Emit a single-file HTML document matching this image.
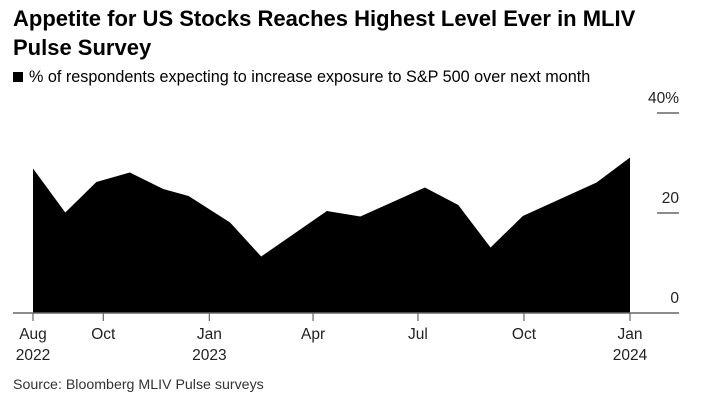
<!DOCTYPE html>
<html><head><meta charset="utf-8"><style>
body{margin:0;background:#fff;width:720px;height:410px;overflow:hidden;font-family:"Liberation Sans",Arial,sans-serif;color:#000}
.t{position:absolute;left:13px;top:4px;font-size:22px;font-weight:bold;line-height:29px;width:660px}
.lg{position:absolute;left:13px;top:68px;font-size:16.2px}
.lg i{display:inline-block;width:10px;height:10px;background:#000;margin-right:6px}
.src{position:absolute;left:13px;top:377px;font-size:14.2px;color:#333}
svg{position:absolute;left:0;top:0}
</style></head><body>
<div class="t">Appetite for US Stocks Reaches Highest Level Ever in MLIV Pulse Survey</div>
<div class="lg"><i></i>% of respondents expecting to increase exposure to S&amp;P 500 over next month</div>
<svg id="c" width="720" height="410"></svg>
<div class="src">Source: Bloomberg MLIV Pulse surveys</div>
<script>
const dates=["2022-08-01","2022-08-29","2022-09-25","2022-10-24","2022-11-22","2022-12-14","2023-01-19","2023-02-15","2023-04-13","2023-05-12","2023-07-07","2023-08-05","2023-09-02","2023-09-30","2023-12-03","2024-01-01"];
const values=[28.9,20.1,26.2,28.1,24.8,23.4,18.1,11.3,20.4,19.3,25.1,21.6,13.1,19.4,26.1,31.1];
const yTicks=[0,20,40];
const yTickLabels=["0","20","40%"];
const xTicks=["2022-08-01","2022-10-01","2023-01-01","2023-04-01","2023-07-01","2023-10-01","2024-01-01"];
const xTickLabels=[["Aug","2022"],["Oct",""],["Jan","2023"],["Apr",""],["Jul",""],["Oct",""],["Jan","2024"]];
const NS="http://www.w3.org/2000/svg",svg=document.getElementById('c');
const t0=Date.parse("2022-08-01"),t1=Date.parse("2024-01-01");
const x=d=>33+(Date.parse(d)-t0)/(t1-t0)*597;
const y=v=>313-v*5;
function mk(tag,a){const e=document.createElementNS(NS,tag);for(const k in a)e.setAttribute(k,a[k]);svg.appendChild(e);return e;}
let d="M"+x(dates[0])+","+y(0);
dates.forEach((dt,i)=>{d+=" L"+x(dt)+","+y(values[i]);});
d+=" L"+x(dates[dates.length-1])+","+y(0)+" Z";
const area=mk('path',{d:d,fill:'#000'});


const base=mk('line',{x1:13,x2:679,y1:y(0),y2:y(0),stroke:'#666','stroke-width':1.5});


yTicks.forEach((v,i)=>{
 if(v>0){const l=mk('line',{x1:657,x2:679,y1:y(v),y2:y(v),stroke:'#666','stroke-width':1.5});
 
 }
 const tx=mk('text',{x:679,y:y(v)-10,'text-anchor':'end','font-size':15.5,fill:'#222'});tx.textContent=yTickLabels[i];
 
 
});
xTicks.forEach((dt,i)=>{
 const X=x(dt);
 const l=mk('line',{x1:X,x2:X,y1:y(0),y2:y(0)+8,stroke:'#666','stroke-width':1.2});
 
 
 const a=mk('text',{x:X,y:339,'text-anchor':'middle','font-size':15.5,fill:'#222'});a.textContent=xTickLabels[i][0];
 
 
 if(xTickLabels[i][1]){const b=mk('text',{x:X,y:360,'text-anchor':'middle','font-size':15.5,fill:'#222'});b.textContent=xTickLabels[i][1];
 
 }
});
</script>
</body></html>
